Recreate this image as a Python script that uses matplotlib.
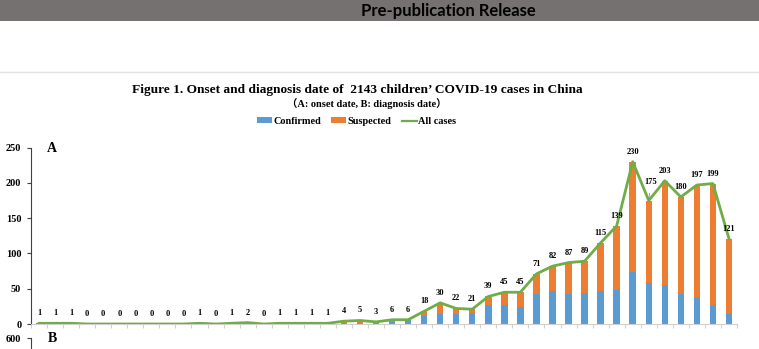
import matplotlib
matplotlib.use("Agg")
import matplotlib.pyplot as plt
import numpy as np
from matplotlib.patches import Rectangle, Patch
from matplotlib.lines import Line2D

# Daily case counts by onset date (panel A)
all_cases = [1, 1, 1, 0, 0, 0, 0, 0, 0, 0, 1, 0, 1, 2, 0, 1, 1, 1, 1, 4, 5, 3, 6, 6,
             18, 30, 22, 21, 39, 45, 45, 71, 82, 87, 89, 115, 139, 230, 175, 203, 180,
             197, 199, 121]
confirmed = [1, 1, 1, 0, 0, 0, 0, 0, 0, 0, 1, 0, 1, 1, 0, 1, 1, 1, 1, 1, 1, 2, 3, 5,
             12, 14, 14, 16, 27, 27, 24, 43, 47, 43, 44, 47, 48, 74, 58, 55, 43,
             38, 27, 14]
suspected = [0, 0, 0, 0, 0, 0, 0, 0, 0, 0, 0, 0, 0, 1, 0, 0, 0, 0, 0, 3, 4, 1, 3, 1,
             6, 16, 8, 5, 12, 18, 21, 28, 35, 44, 45, 68, 91, 156, 117, 148, 137,
             159, 172, 107]
yticks_a = [0, 50, 100, 150, 200, 250]
ymax_b = 600

W, H = 759, 349
BLUE, ORANGE, GREEN = "#5b9bd5", "#ed7d31", "#70ad47"
SERIF = ["Liberation Serif", "DejaVu Serif"]


def fx(px):
    return px / W


def fy(py):
    return 1 - py / H


fig = plt.figure(figsize=(W / 100, H / 100), dpi=100)

# Header band
fig.patches.append(Rectangle((0, fy(20.7)), 1, 20.7 / H, transform=fig.transFigure,
                             facecolor="#767171", edgecolor="none", zorder=0))
fig.text(fx(448.5), fy(11), "Pre-publication Release", ha="center", va="center",
         family="Lato", weight="bold", fontsize=12, color="black")
fig.lines.append(Line2D([0, 1], [fy(71.7), fy(71.7)], transform=fig.transFigure,
                        color="#e2e2e2", lw=1))

# Titles
fig.text(fx(357.5), fy(90), "Figure 1. Onset and diagnosis date of  2143 children\u2019 COVID-19 cases in China",
         ha="center", va="center", family=SERIF, weight="bold", fontsize=9.6)
fig.text(fx(367), fy(104), "\uff08A: onset date, B: diagnosis date\uff09",
         ha="center", va="center", family=SERIF + ["Noto Sans CJK SC"], weight="bold", fontsize=7.5)

# Legend
handles = [Patch(facecolor=BLUE, edgecolor="none"),
           Patch(facecolor=ORANGE, edgecolor="none"),
           Line2D([], [], color=GREEN, lw=1.6)]
fig.legend(handles, ["Confirmed", "Suspected", "All cases"], loc="center",
           bbox_to_anchor=(fx(356.5), fy(121.5)), ncol=3, frameon=False,
           prop={"family": SERIF, "weight": "bold", "size": 7.4},
           handlelength=1.45, handleheight=0.5, handletextpad=0.15,
           columnspacing=1.0, borderpad=0)

# Panel A
ax = fig.add_axes([fx(31), (H - 324) / H, 706 / W, 176.4 / H])
x = np.arange(len(all_cases))
ax.bar(x, confirmed, width=0.4, color=BLUE, zorder=2)
ax.bar(x, suspected, bottom=confirmed, width=0.4, color=ORANGE, zorder=2)
ax.plot(x, all_cases, color=GREEN, lw=2, zorder=3, solid_joinstyle="round")
ax.set_xlim(-0.5, len(all_cases) - 0.5)
ax.set_ylim(0, 250)
ax.set_yticks(yticks_a)
ax.set_yticklabels([str(v) for v in yticks_a], family=SERIF, weight="bold", fontsize=7.5)
ax.set_xticks(np.arange(-0.5, len(all_cases), 1))
ax.set_xticklabels([])
ax.tick_params(axis="x", length=3, color="#d0d0d0", width=0.8)
ax.tick_params(axis="y", length=3, color="#404040", width=0.8, pad=4)
for s in ("top", "right"):
    ax.spines[s].set_visible(False)
ax.spines["bottom"].set_color("#d0d0d0")
ax.spines["left"].set_color("#404040")
ax.spines["left"].set_linewidth(0.8)
ax.patch.set_alpha(0)

for i, v in enumerate(all_cases):
    if i == 38:
        ax.annotate(str(v), (i, v), xytext=(1.5, 13), textcoords="offset points",
                    ha="center", va="center", family=SERIF, weight="bold", fontsize=6,
                    arrowprops=dict(arrowstyle="-", color="#8c8c8c", lw=0.6,
                                    shrinkA=3, shrinkB=0))
    else:
        ax.annotate(str(v), (i, v), xytext=(0, 7.2), textcoords="offset points",
                    ha="center", va="center", family=SERIF, weight="bold", fontsize=6)

fig.text(fx(52), fy(148.5), "A", ha="center", va="center", family=SERIF,
         weight="bold", fontsize=10)

# Panel B (its top edge only; the rest lies below the figure)
hb = 0.5
ax2 = fig.add_axes([fx(31), (H - 338) / H - hb, 706 / W, hb])
ax2.set_ylim(0, ymax_b)
ax2.set_xlim(-0.5, len(all_cases) - 0.5)
ax2.set_yticks([ymax_b])
ax2.set_yticklabels([str(ymax_b)], family=SERIF, weight="bold", fontsize=7.5)
ax2.set_xticks([])
ax2.tick_params(axis="y", length=3, color="#404040", width=0.8, pad=4)
for s in ("top", "right", "bottom"):
    ax2.spines[s].set_visible(False)
ax2.spines["left"].set_color("#404040")
ax2.spines["left"].set_linewidth(0.8)
ax2.patch.set_alpha(0)
fig.text(fx(52), fy(338.5), "B", ha="center", va="center", family=SERIF,
         weight="bold", fontsize=10)

fig.savefig("out.png", dpi=100)
